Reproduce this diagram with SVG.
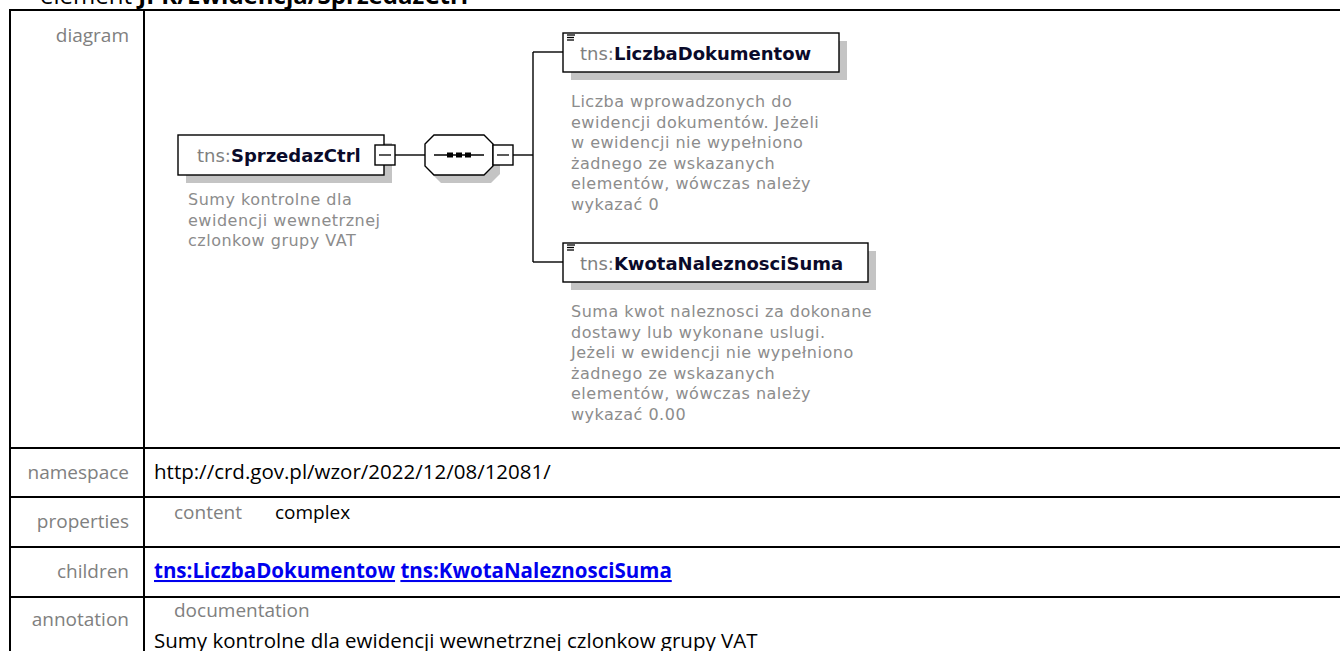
<svg xmlns="http://www.w3.org/2000/svg" width="1340" height="651" viewBox="0 0 1340 651">
<style>
.tbl{stroke:#000;stroke-width:2;fill:none}
.lbl{font-family:"Open Sans","Noto Sans",sans-serif;font-size:19px;fill:#808080;text-anchor:end}
.val{font-family:"Open Sans","Noto Sans",sans-serif;font-size:20.5px;fill:#000}
.pv{font-family:"Open Sans","Noto Sans",sans-serif;font-size:19px;fill:#000}
.sub{font-family:"Open Sans","Noto Sans",sans-serif;font-size:19px;fill:#808080}
.link{font-family:"Open Sans","Noto Sans",sans-serif;font-size:20.5px;font-weight:bold;fill:#0000ee}
.title{font-family:"Open Sans","Noto Sans",sans-serif;font-size:24px;fill:#000}
.box{fill:#fff;stroke:#000;stroke-width:1.4}
.shadow{fill:#c4c4c4}
.conn{stroke:#000;stroke-width:1.4;fill:none}
.name{font-family:"DejaVu Sans",sans-serif;font-size:18px}
.pfx{fill:#808080}
.nm{font-weight:bold;fill:#0a0a2a}
.desc{font-family:"DejaVu Sans",sans-serif;font-size:16px;letter-spacing:0.5px;fill:#8c8c8c}
.icon{stroke:#000;stroke-width:1.3}
</style>

<text class="title" x="40" y="4">element <tspan font-weight="bold">JPK/Ewidencja/SprzedazCtrl</tspan></text>

<g id="table">
  <line class="tbl" x1="9" y1="10" x2="1340" y2="10"/>
  <line class="tbl" x1="10" y1="9" x2="10" y2="651"/>
  <line class="tbl" x1="144" y1="9" x2="144" y2="651"/>
  <line class="tbl" x1="9" y1="448" x2="1340" y2="448"/>
  <line class="tbl" x1="9" y1="497" x2="1340" y2="497"/>
  <line class="tbl" x1="9" y1="547" x2="1340" y2="547"/>
  <line class="tbl" x1="9" y1="597" x2="1340" y2="597"/>
</g>

<g id="labels">
  <text class="lbl" x="129" y="42">diagram</text>
  <text class="lbl" x="129" y="479">namespace</text>
  <text class="lbl" x="129" y="528">properties</text>
  <text class="lbl" x="129" y="578">children</text>
  <text class="lbl" x="129" y="626">annotation</text>
</g>

<g id="values">
  <text class="val" x="154" y="479">http://crd.gov.pl/wzor/2022/12/08/12081/</text>
  <text class="sub" x="174" y="519">content</text>
  <text class="pv" x="275" y="519">complex</text>
  <text class="link" x="154" y="578"><tspan text-decoration="underline">tns:LiczbaDokumentow</tspan> <tspan text-decoration="underline">tns:KwotaNaleznosciSuma</tspan></text>
  <text class="sub" x="174" y="617">documentation</text>
  <text class="val" x="154" y="648">Sumy kontrolne dla ewidencji wewnetrznej czlonkow grupy VAT</text>
</g>

<g id="connectors">
  <line class="conn" x1="395" y1="155" x2="425" y2="155"/>
  <line class="conn" x1="513" y1="155" x2="533" y2="155"/>
  <line class="conn" x1="533" y1="52" x2="533" y2="262"/>
  <line class="conn" x1="533" y1="52" x2="563" y2="52"/>
  <line class="conn" x1="533" y1="262" x2="563" y2="262"/>
</g>

<g id="node-SprzedazCtrl">
  <rect class="shadow" x="186" y="143" width="206" height="40"/>
  <rect class="box" x="178" y="135" width="206" height="40"/>
  <text class="name" x="197" y="162"><tspan class="pfx">tns:</tspan><tspan class="nm" fill="#10205a">SprzedazCtrl</tspan></text>
  <rect class="box" x="375" y="145" width="20" height="20"/>
  <line class="icon" x1="379" y1="155" x2="391" y2="155"/>
  <text class="desc" x="188" y="205">Sumy kontrolne dla</text>
  <text class="desc" x="188" y="225.5">ewidencji wewnetrznej</text>
  <text class="desc" x="188" y="246">czlonkow grupy VAT</text>
</g>

<g id="node-sequence">
  <polygon class="shadow" points="432,152 441,143 493,143 500,152 500,174 491,183 441,183 432,174"/>
  <polygon class="box" points="425,144 434,135 484,135 493,144 493,166 484,175 434,175 425,166"/>
  <line class="icon" x1="434" y1="155" x2="484" y2="155"/>
  <rect x="447" y="152.5" width="6" height="5" fill="#000"/>
  <rect x="456" y="152.5" width="6" height="5" fill="#000"/>
  <rect x="465" y="152.5" width="6" height="5" fill="#000"/>
  <rect class="box" x="493" y="145" width="20" height="20"/>
  <line class="icon" x1="497" y1="155" x2="509" y2="155"/>
</g>

<g id="node-LiczbaDokumentow">
  <rect class="shadow" x="571" y="41" width="276" height="39"/>
  <rect class="box" x="563" y="33" width="276" height="39"/>
  <line class="icon" x1="567" y1="35" x2="575" y2="35"/>
  <line class="icon" x1="567" y1="37.5" x2="574" y2="37.5"/>
  <line class="icon" x1="567" y1="40" x2="574" y2="40"/>
  <text class="name" x="580" y="60"><tspan class="pfx">tns:</tspan><tspan class="nm">LiczbaDokumentow</tspan></text>
  <text class="desc" x="571" y="107">Liczba wprowadzonych do</text>
  <text class="desc" x="571" y="127.5">ewidencji dokumentów. Jeżeli</text>
  <text class="desc" x="571" y="148">w ewidencji nie wypełniono</text>
  <text class="desc" x="571" y="168.5">żadnego ze wskazanych</text>
  <text class="desc" x="571" y="189">elementów, wówczas należy</text>
  <text class="desc" x="571" y="209.5">wykazać 0</text>
</g>

<g id="node-KwotaNaleznosciSuma">
  <rect class="shadow" x="571" y="251" width="305" height="39"/>
  <rect class="box" x="563" y="243" width="305" height="39"/>
  <line class="icon" x1="567" y1="245" x2="575" y2="245"/>
  <line class="icon" x1="567" y1="247.5" x2="574" y2="247.5"/>
  <line class="icon" x1="567" y1="250" x2="574" y2="250"/>
  <text class="name" x="580" y="270"><tspan class="pfx">tns:</tspan><tspan class="nm">KwotaNaleznosciSuma</tspan></text>
  <text class="desc" x="571" y="317">Suma kwot naleznosci za dokonane</text>
  <text class="desc" x="571" y="337.5">dostawy lub wykonane uslugi.</text>
  <text class="desc" x="571" y="358">Jeżeli w ewidencji nie wypełniono</text>
  <text class="desc" x="571" y="378.5">żadnego ze wskazanych</text>
  <text class="desc" x="571" y="399">elementów, wówczas należy</text>
  <text class="desc" x="571" y="419.5">wykazać 0.00</text>
</g>
</svg>
